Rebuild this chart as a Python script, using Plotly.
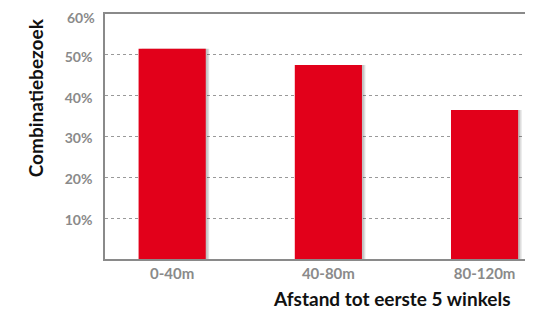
import plotly.graph_objects as go

categories = ["0-40m", "40-80m", "80-120m"]
values = [51.5, 47.5, 36.5]
y_ticks = [10, 20, 30, 40, 50]
y_tick_labels = ["10%", "20%", "30%", "40%", "50%"]
y_top_label = "60%"

FONT = "Lato"
GRAY = "#8a8a8a"
BAR_W = 0.43

fig = go.Figure()
# soft shadow on the right side of each bar
fig.add_trace(go.Bar(x=categories, y=values, width=BAR_W, offset=-BAR_W / 2 + 0.022,
                     marker=dict(color="rgba(0,0,0,0.13)", line=dict(width=0)), hoverinfo="skip"))
fig.add_trace(go.Bar(x=categories, y=values, width=BAR_W, offset=-BAR_W / 2 + 0.012,
                     marker=dict(color="rgba(0,0,0,0.12)", line=dict(width=0)), hoverinfo="skip"))
fig.add_trace(go.Bar(x=categories, y=values, width=BAR_W, offset=-BAR_W / 2,
                     marker=dict(color="#E2001A", line=dict(width=0))))

# page body has an 8px margin, so the figure is slightly smaller and margins shifted
fig.update_layout(
    width=525, height=302,
    margin=dict(l=97, r=0, t=6, b=51),
    paper_bgcolor="white", plot_bgcolor="white",
    showlegend=False, barmode="overlay",
    font=dict(family=FONT),
    xaxis=dict(range=[-0.43, 2.31], showline=True, linecolor=GRAY, linewidth=1.5, mirror=True,
               showgrid=False, ticks="", tickfont=dict(family=FONT, size=15, color=GRAY, weight="bold")),
    yaxis=dict(range=[0, 60], tickvals=y_ticks, ticktext=y_tick_labels, showline=True, linecolor=GRAY,
               linewidth=1.5, showgrid=True, gridcolor="#999999", griddash="dot", gridwidth=1,
               ticks="", ticklabelstandoff=8, ticklabelshift=2, zeroline=False,
               tickfont=dict(family=FONT, size=14, color=GRAY, weight="bold")),
    annotations=[
        dict(text=y_top_label, xref="paper", yref="y", x=0, y=60, xanchor="right", yanchor="middle",
             xshift=-8, yshift=-3, showarrow=False,
             font=dict(family=FONT, size=14, color=GRAY, weight="bold")),
        dict(text="Afstand tot eerste 5 winkels", xref="paper", yref="paper", x=0.953, y=-0.163,
             xanchor="right", yanchor="middle", showarrow=False,
             font=dict(family=FONT, size=19, color="#111111", weight="bold")),
        dict(text="Combinatiebezoek", xref="paper", yref="paper", x=-0.1636, y=0.66,
             xanchor="center", yanchor="middle", textangle=-90, showarrow=False,
             font=dict(family=FONT, size=19, color="#111111", weight="bold")),
    ],
)

fig.write_html("out.html")
